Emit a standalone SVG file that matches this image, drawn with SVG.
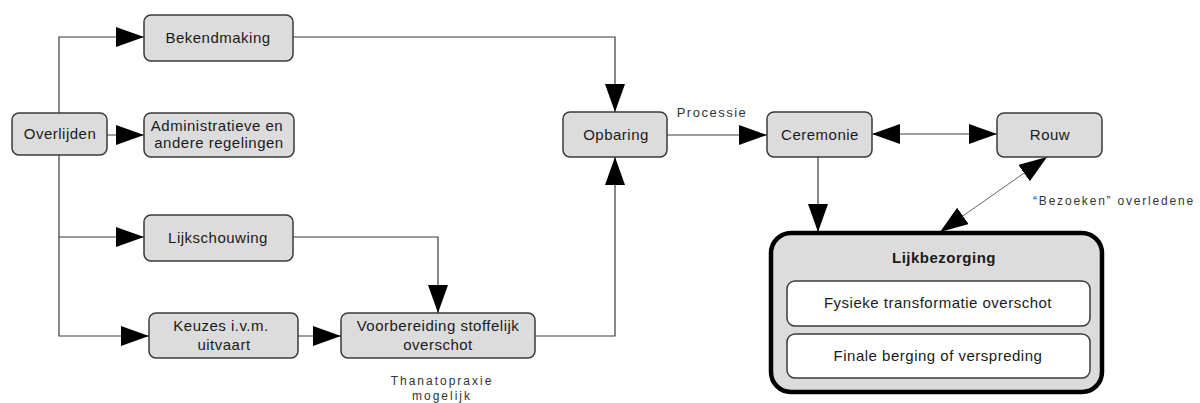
<svg xmlns="http://www.w3.org/2000/svg" width="1200" height="403" viewBox="0 0 1200 403">
<defs>
<style>
.node rect{fill:#dcdcdc;stroke:#3a3a3a;stroke-width:1.5}
.t{font-family:"Liberation Sans",Arial,sans-serif;font-size:15px;letter-spacing:0.5px;fill:#1a1a1a;text-anchor:middle}
.b{font-weight:bold}
.lbl{font-family:"Liberation Sans",Arial,sans-serif;fill:#333;text-anchor:middle}
.c path{fill:none;stroke:#3a3a3a;stroke-width:1.2}
</style>
<marker id="ah" markerUnits="userSpaceOnUse" markerWidth="28" markerHeight="20" refX="28" refY="10" orient="auto-start-reverse" viewBox="0 0 28 20">
<path d="M0,0 L28,10 L0,20 z" fill="#000"/>
</marker>
</defs>
<rect width="1200" height="403" fill="#fff"/>
<g class="c" id="connectors">
<path d="M59,113 V37 H144" marker-end="url(#ah)"/>
<path d="M107,135 H144" marker-end="url(#ah)"/>
<path d="M59,155 V336 H149" marker-end="url(#ah)"/>
<path d="M59,237 H144" marker-end="url(#ah)"/>
<path d="M293,237 H438 V313" marker-end="url(#ah)"/>
<path d="M298,336 H341" marker-end="url(#ah)"/>
<path d="M535,336 H615 V157" marker-end="url(#ah)"/>
<path d="M293,37 H615 V112" marker-end="url(#ah)"/>
<path d="M667,135 H767" marker-end="url(#ah)"/>
<path d="M872,134 H997" marker-start="url(#ah)" marker-end="url(#ah)"/>
<path d="M818,157 V232" marker-end="url(#ah)"/>
<path d="M1047,157 L940,232" style="stroke-width:0.9;stroke:#555" marker-start="url(#ah)" marker-end="url(#ah)"/>
</g>
<g id="overlijden" class="node"><rect x="12" y="113" width="95" height="42" rx="7"/><text class="t" x="60" y="139">Overlijden</text></g>
<g id="bekendmaking" class="node"><rect x="144" y="15" width="149" height="46" rx="7"/><text class="t" x="218" y="43">Bekendmaking</text></g>
<g id="administratieve" class="node"><rect x="144" y="113" width="150" height="44" rx="7"/><text class="t" x="217" y="131">Administratieve en</text><text class="t" x="219" y="148">andere regelingen</text></g>
<g id="lijkschouwing" class="node"><rect x="144" y="215" width="149" height="46" rx="7"/><text class="t" x="218" y="243">Lijkschouwing</text></g>
<g id="keuzes" class="node"><rect x="149" y="313" width="149" height="45" rx="7"/><text class="t" x="221" y="331">Keuzes i.v.m.</text><text class="t" x="224" y="350">uitvaart</text></g>
<g id="voorbereiding" class="node"><rect x="341" y="313" width="194" height="45" rx="7"/><text class="t" x="438" y="331">Voorbereiding stoffelijk</text><text class="t" x="438" y="350">overschot</text></g>
<g id="opbaring" class="node"><rect x="563" y="112" width="104" height="45" rx="7"/><text class="t" x="616" y="140">Opbaring</text></g>
<g id="ceremonie" class="node"><rect x="767" y="112" width="105" height="45" rx="7"/><text class="t" x="820" y="140">Ceremonie</text></g>
<g id="rouw" class="node"><rect x="997" y="113" width="105" height="44" rx="7"/><text class="t" x="1050" y="140">Rouw</text></g>
<g id="lijkbezorging">
<rect x="771" y="233" width="331" height="159" rx="20" fill="#dcdcdc" stroke="#000" stroke-width="4.5"/>
<text class="t b" x="944" y="263">Lijkbezorging</text>
<rect x="787" y="281" width="303" height="45" rx="8" fill="#fff" stroke="#3a3a3a" stroke-width="1.5"/>
<text class="t" x="938" y="308">Fysieke transformatie overschot</text>
<rect x="787" y="334" width="303" height="44" rx="8" fill="#fff" stroke="#3a3a3a" stroke-width="1.5"/>
<text class="t" x="938" y="361">Finale berging of verspreding</text>
</g>
<g id="labels">
<text class="lbl" x="712" y="117" style="font-size:13px;letter-spacing:1.5px">Processie</text>
<text class="lbl" x="1114" y="205" style="font-size:12px;letter-spacing:1.8px">“Bezoeken” overledene</text>
<text class="lbl" x="442" y="385" style="font-size:12px;letter-spacing:2px">Thanatopraxie</text>
<text class="lbl" x="442" y="400" style="font-size:12px;letter-spacing:2px">mogelijk</text>
</g>
</svg>
